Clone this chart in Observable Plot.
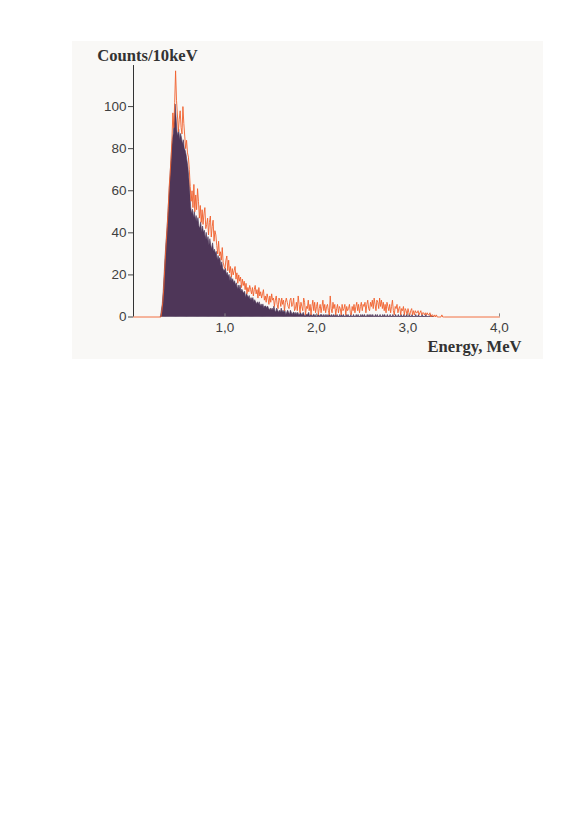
<!DOCTYPE html>
<html><head><meta charset="utf-8">
<script src="https://cdn.jsdelivr.net/npm/d3@7"></script>
<script src="https://cdn.jsdelivr.net/npm/@observablehq/plot@0.6"></script>
<style>
html,body{margin:0;padding:0;background:#fff;}
#panel{position:absolute;left:72px;top:41px;width:471px;height:318px;background:#f9f8f6;}
</style></head><body><div id="panel"></div>
<script>
// Energy bins: 10 keV wide, starting at 0.30 MeV
const binStart = 0.30;
const binWidth = 0.01;

// Orange spectrum (counts per 10 keV), 0.30 .. 3.40 MeV
const orangeCounts = [
  0, 3, 7, 13, 22, 30, 37, 44, 52, 62,
  68, 75, 84, 97, 90, 102, 117, 103, 96, 88,
  94, 98, 90, 87, 100, 92, 86, 80, 84, 78,
  76, 70, 62, 55, 60, 52, 63, 50, 58, 51,
  61, 55, 47, 53, 45, 51, 44, 49, 52, 42,
  44, 47, 39, 45, 48, 38, 43, 46, 36, 41,
  39, 34, 30, 36, 29, 31, 27, 33, 26, 24,
  23, 27, 29, 22, 27, 21, 24, 19, 23, 20,
  22, 24, 18, 21, 16, 20, 17, 19, 14, 18,
  15, 17, 13, 16, 11, 14, 12, 15, 13, 11,
  14, 10, 13, 15, 11, 13, 9, 14, 10, 12,
  9, 11, 13, 8, 10, 7, 11, 9, 6, 10,
  7, 11, 8, 9, 5, 8, 10, 6, 4, 9,
  8, 5, 9, 6, 8, 3, 7, 9, 7, 5,
  4, 8, 9, 5, 6, 9, 3, 4, 7, 3,
  10, 6, 2, 7, 5, 3, 9, 7, 1, 5,
  4, 8, 3, 6, 1, 5, 8, 3, 7, 2,
  5, 7, 1, 4, 6, 2, 5, 8, 3, 6,
  2, 5, 6, 3, 1, 10, 4, 2, 7, 4,
  6, 1, 4, 6, 2, 5, 4, 1, 6, 3,
  4, 6, 1, 5, 3, 4, 6, 2, 1, 5,
  3, 6, 2, 5, 7, 3, 6, 2, 5, 7,
  3, 6, 5, 7, 2, 6, 8, 4, 3, 7,
  5, 8, 4, 9, 6, 3, 8, 7, 4, 9,
  5, 8, 4, 7, 3, 6, 2, 7, 5, 3,
  6, 2, 5, 8, 3, 1, 5, 4, 6, 2,
  4, 5, 1, 4, 3, 5, 1, 4, 3, 1,
  4, 2, 1, 3, 4, 1, 3, 1, 3, 2,
  2, 3, 1, 2, 3, 1, 2, 2, 1, 2,
  1, 2, 1, 1, 2, 0, 1, 1, 0, 1,
  0, 1, 0, 0, 0, 0, 0, 1, 0, 0,
  0
];

// Purple (filled) spectrum (counts per 10 keV), 0.30 .. 3.29 MeV
const purpleCounts = [
  0, 3, 6, 12, 20, 28, 35, 41, 48, 56,
  63, 71, 78, 84, 87, 93, 101, 95, 88, 86,
  89, 84, 87, 85, 82, 84, 80, 79, 77, 74,
  71, 66, 60, 52, 49, 51, 47, 50, 46, 48,
  45, 47, 43, 42, 45, 40, 43, 40, 41, 37,
  40, 36, 38, 34, 37, 34, 32, 35, 31, 32,
  30, 31, 27, 29, 27, 28, 24, 26, 23, 22,
  22, 23, 20, 21, 19, 20, 17, 19, 17, 18,
  16, 17, 15, 16, 13, 15, 13, 15, 12, 13,
  12, 11, 12, 9, 11, 10, 9, 10, 8, 9,
  8, 9, 7, 8, 7, 6, 7, 6, 7, 5,
  6, 5, 6, 4, 5, 5, 4, 5, 4, 3,
  4, 3, 4, 3, 5, 3, 2, 4, 3, 2,
  3, 2, 4, 2, 3, 2, 3, 1, 2, 3,
  2, 1, 3, 2, 1, 2, 2, 1, 2, 1,
  2, 1, 1, 2, 1, 1, 2, 1, 0, 1,
  1, 1, 2, 0, 1, 1, 0, 1, 1, 0,
  1, 0, 1, 1, 0, 1, 1, 0, 1, 0,
  1, 0, 1, 0, 1, 1, 0, 1, 0, 1,
  0, 1, 0, 1, 0, 0, 1, 0, 1, 0,
  1, 0, 0, 1, 0, 1, 0, 0, 1, 0,
  0, 1, 0, 0, 1, 0, 1, 0, 0, 1,
  0, 1, 0, 1, 0, 0, 1, 0, 1, 0,
  1, 0, 1, 0, 0, 1, 0, 1, 0, 0,
  1, 0, 0, 1, 0, 1, 0, 0, 1, 0,
  0, 1, 0, 0, 1, 0, 0, 1, 0, 0,
  1, 0, 0, 1, 0, 0, 1, 0, 0, 1,
  0, 0, 1, 0, 0, 1, 0, 0, 0, 1,
  0, 0, 1, 0, 0, 0, 1, 0, 0, 0,
  1, 0, 0, 0, 0, 1, 0, 0, 0, 0
];

// Zero-count ends of the orange trace (axis start and end)
const orangeEnds = [{e: 0, c: 0}, {e: 4, c: 0}];

const xTicks = [1, 2, 3, 4];
const yTicks = [0, 20, 40, 60, 80, 100];
const xDomain = [0, 4];
const yDomain = [0, 120];
const yAxisTop = 119.5;
const xLabel = "Energy, MeV";
const yLabel = "Counts/10keV";

const toRows = arr => arr.map((c, i) => ({e: +(binStart + i * binWidth).toFixed(2), c}));
const purple = toRows(purpleCounts);
const orange = [orangeEnds[0], ...toRows(orangeCounts), orangeEnds[1]];

const fmt = d => d.toFixed(1).replace(".", ",");

const chart = Plot.plot({
  width: 471,
  height: 318,
  marginLeft: 61,
  marginRight: 44,
  marginTop: 23,
  marginBottom: 42.5,
  style: {background: "transparent", fontFamily: "'Liberation Sans', Arial, sans-serif", fontSize: "13.5px", color: "#3f3f3f", overflow: "visible"},
  x: {domain: xDomain},
  y: {domain: yDomain},
  marks: [
    Plot.areaY(purple, {x: "e", y: "c", fill: "#4e3658", stroke: "#4e3658", strokeWidth: 0.6}),
    Plot.lineY(orange, {x: "e", y: "c", stroke: "#f0602c", strokeWidth: 0.9}),
    Plot.ruleX([0], {y1: 0, y2: yAxisTop, stroke: "#333", strokeWidth: 1}),
    Plot.axisY({ticks: yTicks, tickSize: 5, tickPadding: 2, label: null, stroke: "#444", fill: "#3f3f3f"}),
    Plot.axisX({ticks: xTicks, tickSize: 0, tickPadding: 5.5, label: null, tickFormat: fmt, fill: "#3f3f3f"}),
    Plot.ruleX(xTicks, {y1: 0, y2: 1.5, stroke: "#888"}),
    Plot.text([yLabel], {frameAnchor: "top-left", dx: -36.3, dy: -4, textAnchor: "start", lineAnchor: "bottom",
      fontFamily: "'Liberation Serif', 'Times New Roman', serif", fontWeight: "bold", fontSize: 16.6, fill: "#333"}),
    Plot.text([xLabel], {frameAnchor: "bottom-right", dx: 22, dy: 34.5, textAnchor: "end", lineAnchor: "bottom",
      fontFamily: "'Liberation Serif', 'Times New Roman', serif", fontWeight: "bold", fontSize: 16.6, fill: "#333"})
  ]
});
document.getElementById("panel").appendChild(chart);
</script>
</body></html>
